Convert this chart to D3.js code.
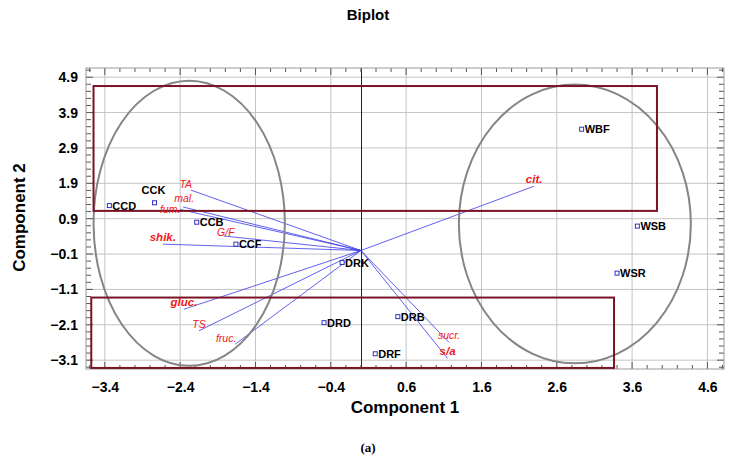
<!DOCTYPE html>
<html>
<head>
<meta charset="utf-8">
<script src="https://cdn.jsdelivr.net/npm/d3@7"></script>
<style>
  body { margin: 0; background: #fff; }
  svg { display: block; font-family: "Liberation Sans", Arial, sans-serif; }
</style>
</head>
<body>
<svg width="737" height="461"></svg>
<script>
// observations (scores)
let obsNames = ["CCD", "CCK", "CCB", "CCF", "DRK", "DRD", "DRB", "DRF", "WBF", "WSB", "WSR"];
let obsX = [-3.34, -2.74, -2.18, -1.66, -0.25, -0.49, 0.49, 0.19, 2.93, 3.67, 3.40];
let obsY = [1.27, 1.35, 0.80, 0.18, -0.34, -2.04, -1.87, -2.92, 3.43, 0.69, -0.64];

// variables (loadings)
let varNames = ["TA", "mal.", "fum.", "G/F", "shik.", "gluc.", "TS", "fruc.", "cit.", "sucr.", "s/a"];
let varX = [-2.26, -2.36, -2.40, -1.82, -2.63, -2.35, -2.15, -1.67, 2.30, 1.17, 1.15];
let varY = [1.71, 1.23, 1.16, 0.41, 0.18, -1.66, -2.27, -2.65, 1.82, -2.60, -3.05];

let xTicks = [-3.4, -2.4, -1.4, -0.4, 0.6, 1.6, 2.6, 3.6, 4.6];
let yTicks = [-3.1, -2.1, -1.1, -0.1, 0.9, 1.9, 2.9, 3.9, 4.9];

// group boxes [x0, x1, y0, y1] and ellipses [cx, cy, rx, ry]
let boxes = [[-3.55, 3.93, 1.12, 4.65], [-3.58, 3.36, -3.32, -1.33]];
let ellipses = [[-2.28, 0.77, 1.27, 4.03], [2.84, 0.75, 1.54, 3.94]];

let svg = d3.select("svg");
let margin = {top: 68, right: 13, bottom: 92, left: 86};
let width = 737 - margin.left - margin.right;
let height = 461 - margin.top - margin.bottom;

let xScale = d3.scaleLinear().domain([-3.65, 4.82]).range([0, width]);
let yScale = d3.scaleLinear().domain([-3.35, 5.16]).range([height, 0]);

svg.append("text")
    .attr("x", 368)
    .attr("y", 20)
    .attr("font-size", "15px")
    .attr("font-weight", "bold")
    .style("text-anchor", "middle")
    .text("Biplot");

let g = svg.append("g")
    .attr("transform", "translate(" + margin.left + "," + margin.top + ")");

g.append("defs").append("clipPath").attr("id", "clip")
    .append("rect").attr("width", width).attr("height", height);

// grid
g.selectAll(".gx").data(xTicks).enter().append("line")
    .attr("x1", d => xScale(d)).attr("x2", d => xScale(d))
    .attr("y1", 0).attr("y2", height)
    .attr("stroke", "#c4c4c4").attr("stroke-width", 1);
g.selectAll(".gy").data(yTicks).enter().append("line")
    .attr("y1", d => yScale(d)).attr("y2", d => yScale(d))
    .attr("x1", 0).attr("x2", width)
    .attr("stroke", "#c4c4c4").attr("stroke-width", 1);
let zx = Math.round(xScale(0)) + 0.5;
g.append("line")
    .attr("x1", zx).attr("x2", zx)
    .attr("y1", 0).attr("y2", height)
    .attr("stroke", "#222").attr("stroke-width", 1);

// inside ticks, minor every 0.2
let minorX = d3.range(-3.6, 4.81, 0.2).map(v => +v.toFixed(1));
let minorY = d3.range(-3.3, 5.11, 0.2).map(v => +v.toFixed(1));
function isMajor(v, list) { return list.some(t => Math.abs(t - v) < 1e-6); }

minorX.forEach(function (v) {
    let len = isMajor(v, xTicks) ? 7 : 4;
    g.append("line").attr("x1", xScale(v)).attr("x2", xScale(v))
        .attr("y1", height).attr("y2", height - len).attr("stroke", "#555");
    g.append("line").attr("x1", xScale(v)).attr("x2", xScale(v))
        .attr("y1", 0).attr("y2", len).attr("stroke", "#555");
});
minorY.forEach(function (v) {
    let len = isMajor(v, yTicks) ? 7 : 5;
    g.append("line").attr("y1", yScale(v)).attr("y2", yScale(v))
        .attr("x1", 0).attr("x2", len).attr("stroke", "#555");
    g.append("line").attr("y1", yScale(v)).attr("y2", yScale(v))
        .attr("x1", width).attr("x2", width - len).attr("stroke", "#555");
});

g.append("rect")
    .attr("width", width).attr("height", height)
    .attr("fill", "none").attr("stroke", "#9a9a9a").attr("stroke-width", 1);

// axes labels
let xAxis = g.append("g")
    .attr("transform", "translate(0," + height + ")")
    .call(d3.axisBottom(xScale).tickValues(xTicks).tickSize(0).tickPadding(13).tickFormat(d3.format(".1f")));
let yAxis = g.append("g")
    .call(d3.axisLeft(yScale).tickValues(yTicks).tickSize(0).tickPadding(8).tickFormat(d3.format(".1f")));
[xAxis, yAxis].forEach(function (a) {
    a.select(".domain").remove();
    a.selectAll("text")
        .attr("font-family", "'Liberation Sans', Arial, sans-serif")
        .attr("font-size", "14px")
        .attr("font-weight", "bold")
        .attr("fill", "#000");
});

svg.append("text")
    .attr("x", margin.left + width / 2)
    .attr("y", 413)
    .attr("font-size", "17px")
    .attr("font-weight", "bold")
    .style("text-anchor", "middle")
    .text("Component 1");

svg.append("text")
    .attr("transform", "translate(25," + (margin.top + height * 0.5 - 1) + ") rotate(-90)")
    .attr("font-size", "17px")
    .attr("font-weight", "bold")
    .style("text-anchor", "middle")
    .text("Component 2");

svg.append("text")
    .attr("x", 368)
    .attr("y", 452)
    .attr("font-family", "'Liberation Serif', 'Times New Roman', serif")
    .attr("font-size", "13px")
    .attr("font-weight", "bold")
    .style("text-anchor", "middle")
    .text("(a)");

let plot = g.append("g").attr("clip-path", "url(#clip)");

// vectors
let ox = xScale(0), oy = yScale(0);
varNames.forEach(function (name, i) {
    plot.append("line")
        .attr("x1", ox).attr("y1", oy)
        .attr("x2", xScale(varX[i])).attr("y2", yScale(varY[i]))
        .attr("stroke", "#3a3ae8").attr("stroke-width", 0.8);
});

// groups
ellipses.forEach(function (e) {
    plot.append("ellipse")
        .attr("cx", xScale(e[0])).attr("cy", yScale(e[1]))
        .attr("rx", xScale(e[0] + e[2]) - xScale(e[0]))
        .attr("ry", yScale(e[1] - e[3]) - yScale(e[1]))
        .attr("fill", "none").attr("stroke", "#858585").attr("stroke-width", 2);
});
boxes.forEach(function (b) {
    plot.append("rect")
        .attr("x", xScale(b[0])).attr("y", yScale(b[3]))
        .attr("width", xScale(b[1]) - xScale(b[0]))
        .attr("height", yScale(b[2]) - yScale(b[3]))
        .attr("fill", "none").attr("stroke", "#7a1424").attr("stroke-width", 2);
});

// vector labels
let labelShift = {"TA": [-5, -2], "fum.": [-10, 4], "fruc.": [-9, -2], "mal.": [1, -5], "G/F": [2, 0]};
let boldLabels = ["shik.", "gluc.", "cit.", "s/a"];
varNames.forEach(function (name, i) {
    let s = labelShift[name] || [0, -3];
    g.append("text")
        .attr("x", xScale(varX[i]) + s[0])
        .attr("y", yScale(varY[i]) + s[1])
        .attr("font-size", boldLabels.includes(name) ? "11.5px" : "10.5px")
        .attr("font-style", "italic")
        .attr("font-weight", boldLabels.includes(name) ? "bold" : "normal")
        .attr("fill", "#f01818")
        .style("text-anchor", "middle")
        .text(name);
});

// observations
obsNames.forEach(function (name, i) {
    let px = xScale(obsX[i]), py = yScale(obsY[i]);
    g.append("rect")
        .attr("x", px - 2).attr("y", py - 2)
        .attr("width", 4).attr("height", 4)
        .attr("fill", "#fff").attr("stroke", "#3030c0").attr("stroke-width", 1);
    let above = name === "CCK";
    g.append("text")
        .attr("x", above ? px - 1 : px + 3)
        .attr("y", above ? py - 9 : py + 4)
        .attr("font-size", "11px")
        .attr("font-weight", "bold")
        .style("text-anchor", above ? "middle" : "start")
        .text(name);
});
</script>
</body>
</html>
